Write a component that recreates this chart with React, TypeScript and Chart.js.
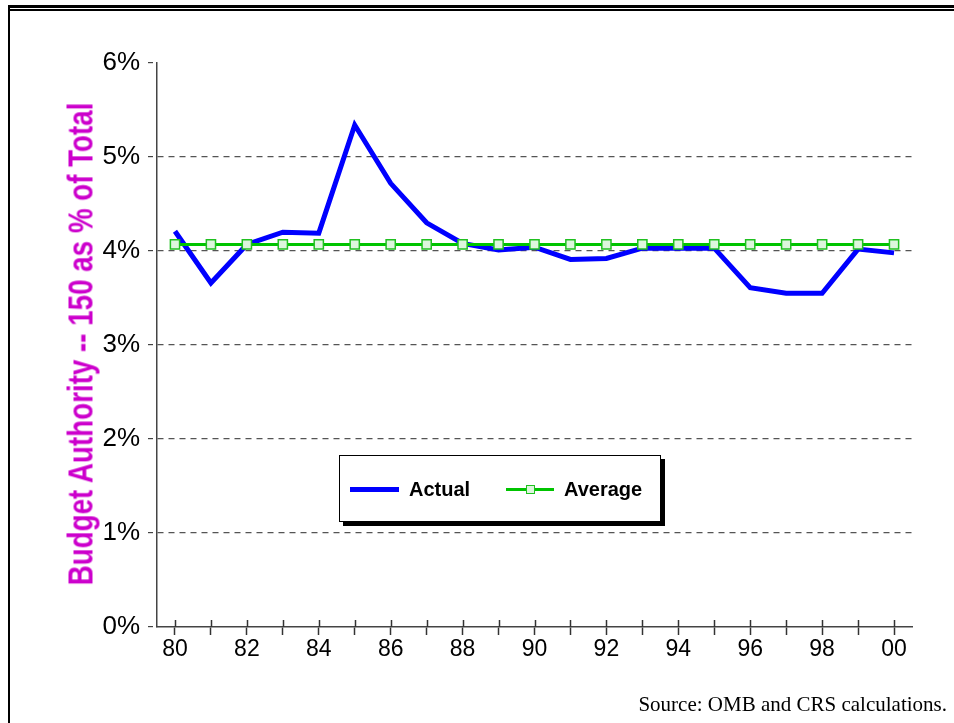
import React, { useEffect, useLayoutEffect, useRef } from 'react';
import { Chart, registerables } from 'chart.js';

Chart.register(...registerables);

const years = ['80', '81', '82', '83', '84', '85', '86', '87', '88', '89', '90', '91', '92', '93', '94', '95', '96', '97', '98', '99', '00'];
const actual = [4.21, 3.66, 4.07, 4.2, 4.19, 5.34, 4.72, 4.3, 4.08, 4.01, 4.04, 3.91, 3.92, 4.03, 4.03, 4.03, 3.61, 3.55, 3.55, 4.02, 3.98];
const average = [4.07, 4.07, 4.07, 4.07, 4.07, 4.07, 4.07, 4.07, 4.07, 4.07, 4.07, 4.07, 4.07, 4.07, 4.07, 4.07, 4.07, 4.07, 4.07, 4.07, 4.07];
const yMin = 0;
const yMax = 6;
const yStep = 1;
const yTitle = 'Budget Authority -- 150 as % of Total';
const sourceText = 'Source: OMB and CRS calculations.';

const SANS = "'Liberation Sans', Arial, sans-serif";
const SERIF = "'Liberation Serif', 'Times New Roman', serif";

const xTickUp = {
  id: 'xTickUp',
  afterDraw(chart: any) {
    const x = chart.scales.x;
    const ctx = chart.ctx;
    ctx.save();
    ctx.strokeStyle = '#333';
    ctx.lineWidth = 1.5;
    x.ticks.forEach((_t: any, i: number) => {
      const px = Math.round(x.getPixelForTick(i)) + 0.5;
      ctx.beginPath();
      ctx.moveTo(px, x.top - 7);
      ctx.lineTo(px, x.top);
      ctx.stroke();
    });
    ctx.restore();
  },
};

export default function App() {
  const ref = useRef<HTMLCanvasElement | null>(null);
  const titleRef = useRef<HTMLDivElement | null>(null);

  useLayoutEffect(() => {
    const el = titleRef.current;
    if (!el) return;
    const w = el.offsetWidth;
    const target = 483;
    const s = w > 0 ? target / w : 1;
    el.style.transform = `translate(-50%, -50%) rotate(-90deg) scaleX(${s})`;
  }, []);

  useEffect(() => {
    if (!ref.current) return;
    Chart.defaults.font.family = SANS;
    const chart = new Chart(ref.current, {
      type: 'line',
      data: {
        labels: years,
        datasets: [
          {
            label: 'Average',
            data: average,
            borderColor: '#00C400',
            borderWidth: 3,
            pointStyle: 'rect',
            pointRadius: 6.5,
            pointBorderColor: '#20C020',
            pointBackgroundColor: '#DDF6DD',
            pointBorderWidth: 1.5,
            order: 0,
          },
          {
            label: 'Actual',
            data: actual,
            borderColor: '#0000FF',
            borderWidth: 5,
            pointRadius: 0,
            order: 1,
          },
        ],
      },
      options: {
        animation: false,
        responsive: false,
        maintainAspectRatio: false,
        layout: { padding: { left: 0, top: 63, right: 42, bottom: 0 } },
        plugins: {
          legend: { display: false },
          tooltip: { enabled: false },
        },
        scales: {
          x: {
            type: 'category',
            offset: true,
            grid: {
              drawOnChartArea: false,
              drawTicks: true,
              tickLength: 8,
              tickColor: '#333',
              tickWidth: 1.5,
            },
            border: { color: '#444', width: 1.5 },
            ticks: {
              autoSkip: false,
              maxRotation: 0,
              minRotation: 0,
              padding: 1,
              color: '#000',
              font: { family: SANS, size: 23 },
              callback: (_v: any, i: number) => (i % 2 === 0 ? years[i] : ''),
            },
            afterFit: (s: any) => {
              s.height = 96;
            },
          },
          y: {
            min: yMin,
            max: yMax,
            ticks: {
              stepSize: yStep,
              padding: 8,
              color: '#000',
              font: { family: SANS, size: 26 },
              callback: (v: any) => v + '%',
            },
            grid: {
              color: (ctx: any) =>
                ctx.tick && (ctx.tick.value === yMin || ctx.tick.value === yMax) ? 'rgba(0,0,0,0)' : '#555',
              lineWidth: 1.2,
              tickLength: 9,
              tickColor: '#444',
              tickWidth: 1.2,
              tickBorderDash: [5, 4],
            },
            border: { color: '#444', width: 1.5, dash: [6, 5] },
            afterFit: (s: any) => {
              s.width = 157;
            },
          },
        },
      },
      plugins: [xTickUp],
    } as any);
    return () => chart.destroy();
  }, []);

  return (
    <div style={{ position: 'absolute', left: 0, top: 0, width: 954, height: 723, background: '#fff', overflow: 'hidden' }}>
      <div style={{ position: 'absolute', left: 8, top: 5, width: 2, height: 718, background: '#000' }} />
      <div style={{ position: 'absolute', left: 8, top: 5, width: 946, height: 3, background: '#000' }} />
      <div style={{ position: 'absolute', left: 10, top: 9, width: 944, height: 1.5, background: '#000' }} />
      <canvas ref={ref} width={954} height={723} style={{ position: 'absolute', left: 0, top: 0, display: 'block' }} />
      <div
        ref={titleRef}
        style={{
          position: 'absolute',
          left: 80,
          top: 343.5,
          whiteSpace: 'nowrap',
          fontFamily: SANS,
          fontWeight: 'bold',
          fontSize: 35,
          lineHeight: '35px',
          color: '#CC00CC',
          transformOrigin: '50% 50%',
          transform: 'translate(-50%, -50%) rotate(-90deg) scaleX(0.79)',
        }}
      >
        {yTitle}
      </div>
      <div
        style={{
          position: 'absolute',
          left: 339,
          top: 455,
          width: 322,
          height: 67,
          border: '1px solid #000',
          background: '#fff',
          boxShadow: '4px 4px 0 #000',
          boxSizing: 'border-box',
          fontFamily: SANS,
        }}
      >
        <div style={{ position: 'absolute', left: 10, top: 31, width: 49, height: 5, background: '#0000FF' }} />
        <div style={{ position: 'absolute', left: 69, top: 21, lineHeight: '24px', fontSize: 20, fontWeight: 'bold', color: '#000' }}>Actual</div>
        <div style={{ position: 'absolute', left: 166, top: 32, width: 48, height: 3, background: '#00C400' }} />
        <div
          style={{
            position: 'absolute',
            left: 186,
            top: 29,
            width: 9,
            height: 9,
            border: '1.5px solid #20C020',
            background: '#DDF6DD',
            boxSizing: 'border-box',
          }}
        />
        <div style={{ position: 'absolute', left: 224, top: 21, lineHeight: '24px', fontSize: 20, fontWeight: 'bold', color: '#000' }}>Average</div>
      </div>
      <div
        style={{
          position: 'absolute',
          right: 7,
          top: 693,
          lineHeight: '22px',
          fontSize: 21,
          fontFamily: SERIF,
          color: '#000',
          whiteSpace: 'nowrap',
        }}
      >
        {sourceText}
      </div>
    </div>
  );
}
